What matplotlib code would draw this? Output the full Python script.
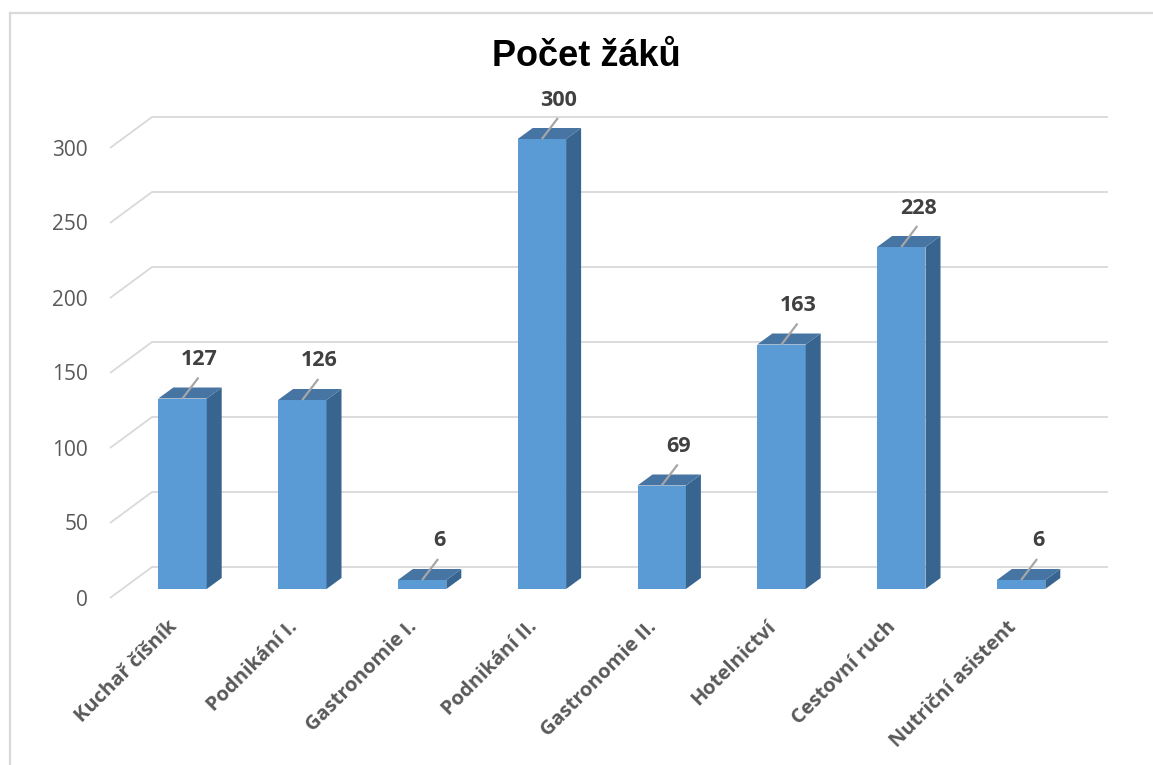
import matplotlib
matplotlib.use("Agg")
import matplotlib.pyplot as plt
from matplotlib.patches import Polygon
from matplotlib.lines import Line2D

# ---- data ----
categories = ["Kuchař číšník", "Podnikání I.", "Gastronomie I.", "Podnikání II.",
              "Gastronomie II.", "Hotelnictví", "Cestovní ruch", "Nutriční asistent"]
values = [127, 126, 6, 300, 69, 163, 228, 6]
y_ticks = [0, 50, 100, 150, 200, 250, 300]
title = "Počet žáků"

# ---- layout / style ----
W, H, DPI = 1153, 765, 100
PX_X = 119.8      # pixels per category
PX_Y = 1.5        # pixels per value unit
X0_PX, Y0_PX = 182.5, 589.0   # pixel position of (cat 0, value 0), image coords

def px_dx(p):
    return p / PX_X

def px_dy(p):
    return p / PX_Y

bar_w = px_dx(48.4)
depth_dx, depth_dy = px_dx(15), px_dy(11)

front_col = "#5b9bd5"
top_col = "#4674a3"
side_col = "#38658f"
grid_col = "#d9d9d9"

fig = plt.figure(figsize=(W / DPI, H / DPI), dpi=DPI)
ax = fig.add_axes([0, 0, 1, 1])
ax.set_xlim(-X0_PX / PX_X, (W - X0_PX) / PX_X)
ax.set_ylim(-(H - Y0_PX) / PX_Y, Y0_PX / PX_Y)
ax.axis("off")

# frame (left and top only visible)
fig.add_artist(Line2D([10 / W, 10 / W], [0, 1 - 13 / H], transform=fig.transFigure,
                      color=grid_col, lw=1.6))
fig.add_artist(Line2D([10 / W, 1], [1 - 13 / H, 1 - 13 / H], transform=fig.transFigure,
                      color=grid_col, lw=1.6))

# gridlines: front diagonal stub + back wall line
fx = px_dx(110 - X0_PX)
fy_off = -px_dy(598 - Y0_PX)
bx = px_dx(152 - X0_PX)
by_off = px_dy(Y0_PX - 567)
wall_end = px_dx(1108 - X0_PX)
for v in y_ticks:
    ax.plot([fx, bx, wall_end], [v + fy_off, v + by_off, v + by_off],
            color=grid_col, lw=1.3, zorder=1, solid_capstyle="butt")
    ax.text(px_dx(88 - X0_PX), v + fy_off - px_dy(2), f"{v}", ha="right", va="center",
            fontsize=15, color="#595959", family="Open Sans")

# bars
for i, v in enumerate(values):
    l, r = i - bar_w / 2, i + bar_w / 2
    ax.bar(i, v, width=bar_w, bottom=0, color=front_col, zorder=3, linewidth=0)
    side = Polygon([(r, 0), (r + depth_dx, depth_dy), (r + depth_dx, v + depth_dy), (r, v)],
                   closed=True, facecolor=side_col, edgecolor="none", zorder=3)
    top = Polygon([(l, v), (r, v), (r + depth_dx, v + depth_dy), (l + depth_dx, v + depth_dy)],
                  closed=True, facecolor=top_col, edgecolor="none", zorder=3)
    ax.add_patch(side)
    ax.add_patch(top)
    # leader line + data label
    ax.plot([i, i + px_dx(16)], [v, v + px_dy(21)], color="#a6a6a6", lw=1.6, zorder=4,
            solid_capstyle="butt")
    ax.text(i + px_dx(17), v + px_dy(39), f"{v}", ha="center", va="center",
            fontsize=15.5, fontweight="bold", color="#404040", family="Open Sans", zorder=5)

# category labels
for i, c in enumerate(categories):
    ax.text(i - px_dx(8), -px_dy(624 - Y0_PX), c, rotation=45, rotation_mode="anchor",
            ha="right", va="center", fontsize=14.5, fontweight="bold", color="#595959",
            family="Open Sans")

# title
ax.text(px_dx(586 - X0_PX), px_dy(Y0_PX - 56), title, ha="center", va="center",
        fontsize=26, fontweight="bold", color="#000000", family="Liberation Sans")

fig.savefig("out.png", dpi=DPI)
